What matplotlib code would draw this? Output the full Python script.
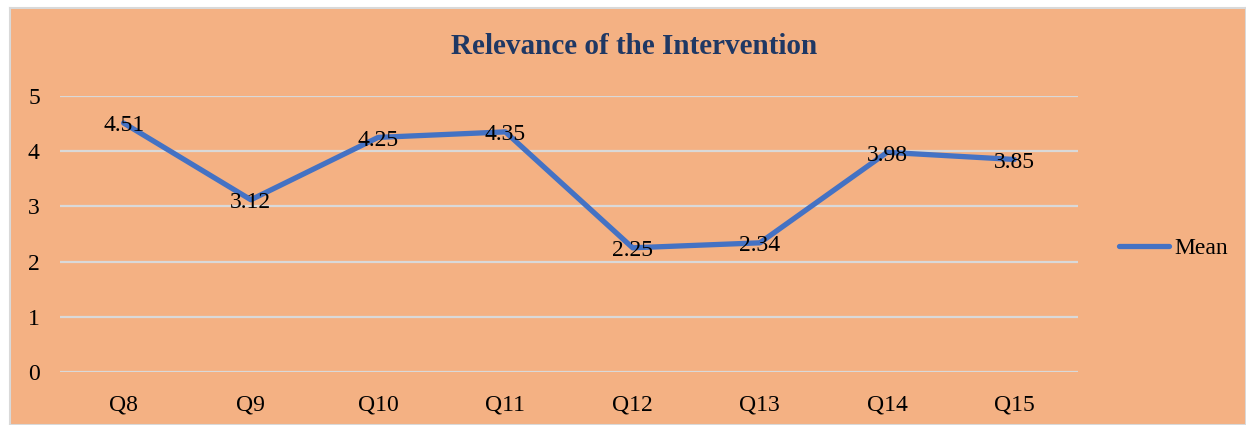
import matplotlib.pyplot as plt

# data
questions = ["Q8", "Q9", "Q10", "Q11", "Q12", "Q13", "Q14", "Q15"]
mean = [4.51, 3.12, 4.25, 4.35, 2.25, 2.34, 3.98, 3.85]

bg = "#F4B183"
blue = "#4472C4"
plt.rcParams['font.family'] = ['Liberation Serif', 'DejaVu Serif']

fig = plt.figure(figsize=(12.46, 4.25), dpi=100, facecolor="white")

# chart area frame (background axes)
frame = fig.add_axes([10/1246, 0, 1 - 10/1246, 1 - 8/425], zorder=0)
frame.set_facecolor(bg)
frame.set_xticks([])
frame.set_yticks([])
for s in frame.spines.values():
    s.set_color("#D9D9D9")
    s.set_linewidth(1.5)

ax = fig.add_axes([60/1246, 1 - 372/425, 1018/1246, 276/425], zorder=1)
ax.patch.set_alpha(0)

x = range(len(questions))
line, = ax.plot(x, mean, color=blue, linewidth=3.8, solid_capstyle="round",
                solid_joinstyle="round", label="Mean", zorder=3)
for xi, v in zip(x, mean):
    ax.annotate(f"{v:.2f}", (xi, v), xytext=(0, -2), textcoords="offset points",
                ha="center", va="center", fontsize=17, zorder=4)

ax.set_xlim(-0.5, len(questions) - 0.5)
ax.set_ylim(0, 5)
ax.set_yticks(range(6))
ax.set_xticks(list(x))
ax.set_xticklabels(questions)
ax.grid(axis="y", color="#D9D9D9", linewidth=1.6)
ax.set_axisbelow(True)
for s in ax.spines.values():
    s.set_visible(False)
ax.tick_params(length=0, labelsize=17)
ax.tick_params(axis="x", pad=16)
ax.tick_params(axis="y", pad=14.5)

fig.text(634/1246, 1 - 47/425, "Relevance of the Intervention", ha="center", va="center",
         fontsize=21, fontweight="bold", color="#1F3864")

fig.legend(handles=[line], loc="center left", bbox_to_anchor=(1098/1246, 1 - 248/425),
           frameon=False, fontsize=17, handlelength=2.1, handletextpad=0.25)

fig.savefig("out.png", dpi=100, facecolor="white")
